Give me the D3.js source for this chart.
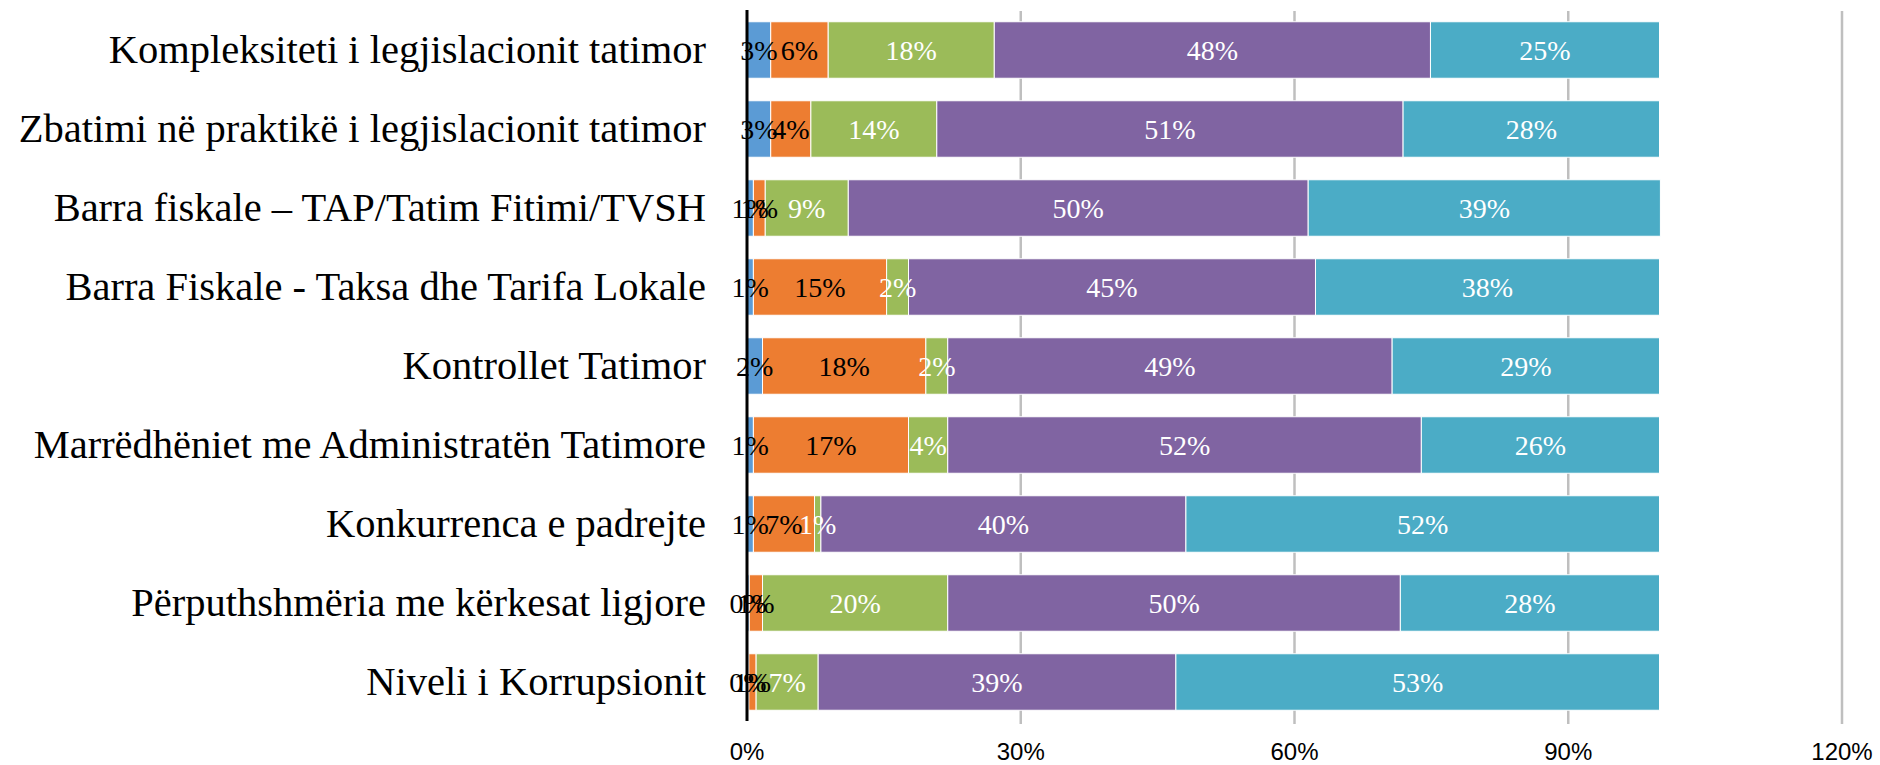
<!DOCTYPE html>
<html>
<head>
<meta charset="utf-8">
<title>Vlerësimi i faktorëve tatimorë</title>
<style>
  body { margin: 0; background: #fff; }
  svg { display: block; }
</style>
</head>
<body>
<main></main>
<script src="https://cdn.jsdelivr.net/npm/d3@7"></script>
<script>

const categories = [
  "Kompleksiteti i legjislacionit tatimor",
  "Zbatimi në praktikë i legjislacionit tatimor",
  "Barra fiskale – TAP/Tatim Fitimi/TVSH",
  "Barra Fiskale - Taksa dhe Tarifa Lokale",
  "Kontrollet Tatimor",
  "Marrëdhëniet me Administratën Tatimore",
  "Konkurrenca e padrejte",
  "Përputhshmëria me kërkesat ligjore",
  "Niveli i Korrupsionit"
];

// five answer groups, percent of respondents
const seriesKeys = ["s1", "s2", "s3", "s4", "s5"];
const s1 = [2.6, 2.6, 0.7, 0.7, 1.7, 0.7, 0.7, 0.25, 0.2];
const s2 = [6.3, 4.4, 1.3, 14.6, 17.9, 17.0, 6.7, 1.45, 0.8];
const s3 = [18.2, 13.8, 9.1, 2.4, 2.4, 4.3, 0.7, 20.3, 6.8];
const s4 = [47.8, 51.1, 50.4, 44.6, 48.7, 51.9, 40.0, 49.6, 39.2];
const s5 = [25.1, 28.1, 38.6, 37.7, 29.3, 26.1, 51.9, 28.4, 53.0];

const tickValues = [0, 30, 60, 90, 120];

const colors = ["#5b9bd5", "#ed7d31", "#9bbb59", "#8064a2", "#4bacc6"];
const labelColors = ["#000", "#000", "#fff", "#fff", "#fff"];

const width = 1880, height = 765;

const rows = categories.map((c, i) => ({
  cat: c, s1: s1[i], s2: s2[i], s3: s3[i], s4: s4[i], s5: s5[i]
}));

const x = d3.scaleLinear().domain([0, 120]).range([747, 1842]);
const y = d3.scaleBand()
  .domain(categories)
  .range([10.5, 721.5])
  .paddingInner(0.285)
  .paddingOuter(0.1425);

const stacked = d3.stack().keys(seriesKeys)(rows);

const svg = d3.select("main").append("svg")
  .attr("width", width)
  .attr("height", height);

// gridlines
svg.append("g")
  .selectAll("line")
  .data(tickValues.slice(1))
  .join("line")
    .attr("x1", d => x(d)).attr("x2", d => x(d))
    .attr("y1", 11).attr("y2", 724)
    .attr("stroke", "#bfbfbf")
    .attr("stroke-width", 2.5);

// bars
const layer = svg.append("g")
  .selectAll("g")
  .data(stacked)
  .join("g")
    .attr("fill", (d, i) => colors[i]);

layer.selectAll("rect")
  .data(d => d)
  .join("rect")
    .attr("x", d => x(d[0]))
    .attr("width", d => x(d[1]) - x(d[0]))
    .attr("y", d => y(d.data.cat))
    .attr("height", y.bandwidth())
    .attr("stroke", "#fff")
    .attr("stroke-width", 1);

// value labels
svg.append("g")
  .style("font", "28px 'Liberation Serif', serif")
  .attr("text-anchor", "middle")
  .selectAll("g")
  .data(stacked)
  .join("g")
    .attr("fill", (d, i) => labelColors[i])
  .selectAll("text")
  .data(d => d)
  .join("text")
    .attr("x", d => (x(d[0]) + x(d[1])) / 2)
    .attr("y", d => y(d.data.cat) + y.bandwidth() / 2)
    .attr("dy", "0.35em")
    .text(d => Math.round(d[1] - d[0]) + "%");

// zero axis line
svg.append("line")
  .attr("x1", x(0)).attr("x2", x(0))
  .attr("y1", 10).attr("y2", 721)
  .attr("stroke", "#000")
  .attr("stroke-width", 3);

// category labels
svg.append("g")
  .style("font", "40.5px 'Liberation Serif', serif")
  .attr("text-anchor", "end")
  .selectAll("text")
  .data(categories)
  .join("text")
    .attr("x", 706)
    .attr("y", d => y(d) + y.bandwidth() / 2)
    .attr("dy", "0.33em")
    .attr("fill", "#000")
    .text(d => d);

// x tick labels
svg.append("g")
  .style("font", "24px 'Liberation Sans', Arial, sans-serif")
  .attr("text-anchor", "middle")
  .selectAll("text")
  .data(tickValues)
  .join("text")
    .attr("x", d => x(d))
    .attr("y", 752)
    .attr("dy", "0.35em")
    .attr("fill", "#000")
    .text(d => d + "%");

</script>
</body>
</html>
